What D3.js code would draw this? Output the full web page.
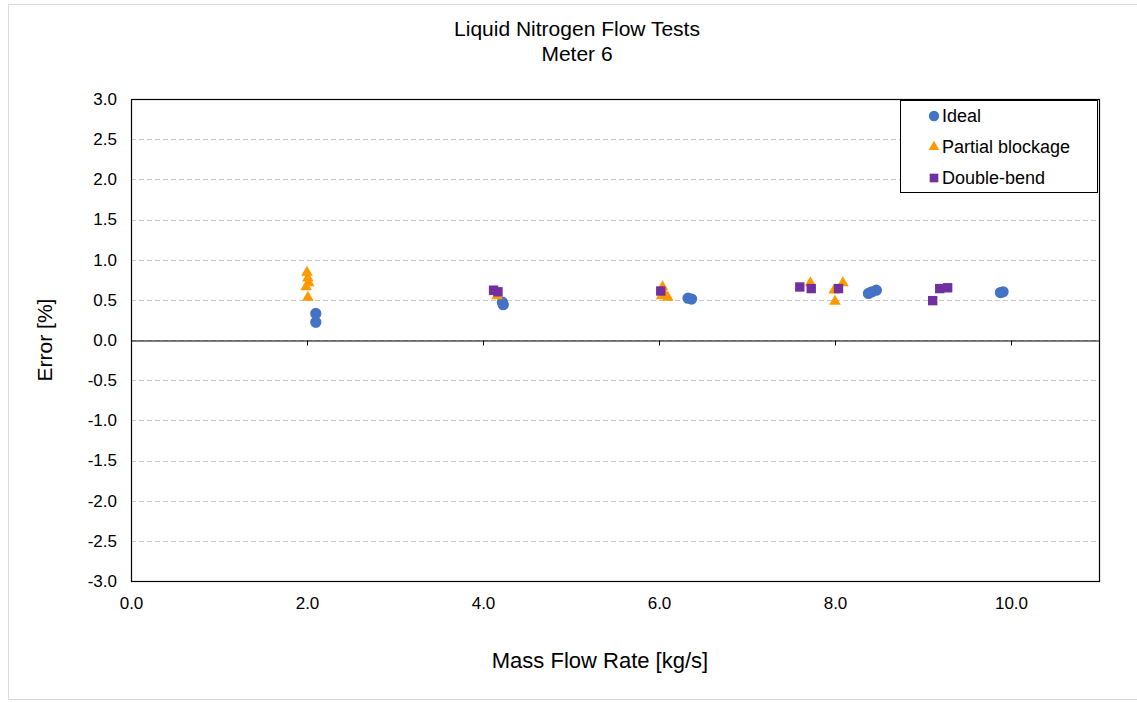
<!DOCTYPE html>
<html>
<head>
<meta charset="utf-8">
<script src="https://cdn.jsdelivr.net/npm/d3@7"></script>
<style>
  body { margin: 0; background: #fff; }
  svg { font-family: "Liberation Sans", Arial, sans-serif; }
</style>
</head>
<body>
<div id="chart"></div>
<script>
// values
const idealFlow    = [2.10, 2.10, 4.22, 4.23, 6.33, 6.37, 8.38, 8.42, 8.47, 9.88, 9.91];
const idealError   = [0.33, 0.22, 0.47, 0.44, 0.52, 0.51, 0.58, 0.60, 0.62, 0.59, 0.60];

const blockFlow    = [2.00, 2.01, 2.02, 1.99, 2.01, 4.13, 4.16, 6.04, 6.06, 6.03, 6.10, 7.72, 8.09, 7.99, 8.00];
const blockError   = [0.84, 0.77, 0.71, 0.66, 0.53, 0.60, 0.55, 0.66, 0.58, 0.55, 0.53, 0.71, 0.71, 0.62, 0.48];

const bendFlow     = [4.12, 4.17, 6.02, 7.60, 7.73, 8.04, 9.11, 9.19, 9.28];
const bendError    = [0.62, 0.60, 0.61, 0.66, 0.64, 0.64, 0.49, 0.64, 0.65];

const xTicks = [0, 2, 4, 6, 8, 10];
const yTicks = [3, 2.5, 2, 1.5, 1, 0.5, 0, -0.5, -1, -1.5, -2, -2.5, -3];

const series = [
  { name: 'Ideal', x: idealFlow, y: idealError, color: '#4472C4', symbol: d3.symbolCircle, size: 100 },
  { name: 'Partial blockage', x: blockFlow, y: blockError, color: '#FF9900', symbol: d3.symbolTriangle, size: 58 },
  { name: 'Double-bend', x: bendFlow, y: bendError, color: '#7030A0', symbol: d3.symbolSquare, size: 88 }
];

const totalWidth = 1137;
const totalHeight = 702;
const margin = { top: 99, right: 38, bottom: 121, left: 131 };
const width = 1099 - margin.left;
const height = 581 - margin.top;

// excel style: plain hyphen for negatives
const fmt = d => d.toFixed(1);

const svg = d3.select('#chart').append('svg')
  .attr('width', totalWidth)
  .attr('height', totalHeight);

// outer chart frame
svg.append('rect')
  .attr('x', 8.5).attr('y', 4.5)
  .attr('width', 1140).attr('height', 695)
  .attr('fill', 'none')
  .attr('stroke', '#d9d9d9');

svg.append('text')
  .attr('x', 577).attr('y', 36)
  .attr('text-anchor', 'middle')
  .attr('font-size', 21)
  .text('Liquid Nitrogen Flow Tests');
svg.append('text')
  .attr('x', 577).attr('y', 61)
  .attr('text-anchor', 'middle')
  .attr('font-size', 21)
  .text('Meter 6');

const g = svg.append('g')
  .attr('transform', `translate(${margin.left}, ${margin.top})`);

const x = d3.scaleLinear().domain([0, 11]).range([0, width]);
const y = d3.scaleLinear().domain([-3, 3]).range([height, 0]);

// gridlines
g.append('g')
  .selectAll('line')
  .data(yTicks)
  .join('line')
    .attr('x1', 0).attr('x2', width)
    .attr('y1', d => Math.round(y(d)) + 0.5)
    .attr('y2', d => Math.round(y(d)) + 0.5)
    .attr('stroke', '#c8c8c8')
    .attr('stroke-dasharray', '5,3');

// y axis labels
g.append('g')
  .call(d3.axisLeft(y).tickValues(yTicks).tickSize(0).tickPadding(14).tickFormat(fmt))
  .call(a => a.select('.domain').remove())
  .selectAll('text')
    .attr('font-size', 17)
    .attr('font-family', '"Liberation Sans", Arial, sans-serif')
    .attr('fill', '#000');

// x axis crossing at y = 0, labels at the bottom
g.append('g')
  .attr('transform', `translate(0, ${Math.round(y(0)) + 0.5})`)
  .call(d3.axisBottom(x).tickValues(xTicks).tickSize(5).tickFormat(''))
  .call(a => a.select('.domain').attr('stroke', '#000'))
  .call(a => a.selectAll('.tick line').attr('stroke', '#000'));

g.append('g')
  .attr('transform', `translate(0, ${height})`)
  .call(d3.axisBottom(x).tickValues(xTicks).tickSize(0).tickPadding(16).tickFormat(fmt))
  .call(a => a.select('.domain').remove())
  .selectAll('text')
    .attr('font-size', 17)
    .attr('font-family', '"Liberation Sans", Arial, sans-serif')
    .attr('fill', '#000');

// plot border
g.append('rect')
  .attr('x', 0.5).attr('y', 0.5)
  .attr('width', width).attr('height', height)
  .attr('fill', 'none')
  .attr('stroke', '#000')
  .attr('stroke-width', 1.2);

// axis titles
svg.append('text')
  .attr('transform', `translate(52, 340) rotate(-90)`)
  .attr('text-anchor', 'middle')
  .attr('font-size', 21)
  .text('Error [%]');
svg.append('text')
  .attr('x', 600).attr('y', 668)
  .attr('text-anchor', 'middle')
  .attr('font-size', 22)
  .text('Mass Flow Rate [kg/s]');

// points
series.forEach(s => {
  g.append('g')
    .selectAll('path')
    .data(s.x.map((v, i) => [v, s.y[i]]))
    .join('path')
      .attr('transform', d => `translate(${x(d[0])}, ${y(d[1])})`)
      .attr('d', d3.symbol(s.symbol, s.size))
      .attr('fill', s.color);
});

// legend
const legend = svg.append('g').attr('transform', 'translate(900, 100)');
legend.append('rect')
  .attr('x', 0.5).attr('y', 0.5)
  .attr('width', 197).attr('height', 92)
  .attr('fill', '#fff')
  .attr('stroke', '#000');
series.forEach((s, i) => {
  const row = legend.append('g').attr('transform', `translate(0, ${16 + i * 31})`);
  row.append('path')
    .attr('transform', 'translate(34, 0)')
    .attr('d', d3.symbol(s.symbol, s.size * 0.85))
    .attr('fill', s.color);
  row.append('text')
    .attr('x', 42).attr('y', 6)
    .attr('font-size', 18)
    .text(s.name);
});
</script>
</body>
</html>
